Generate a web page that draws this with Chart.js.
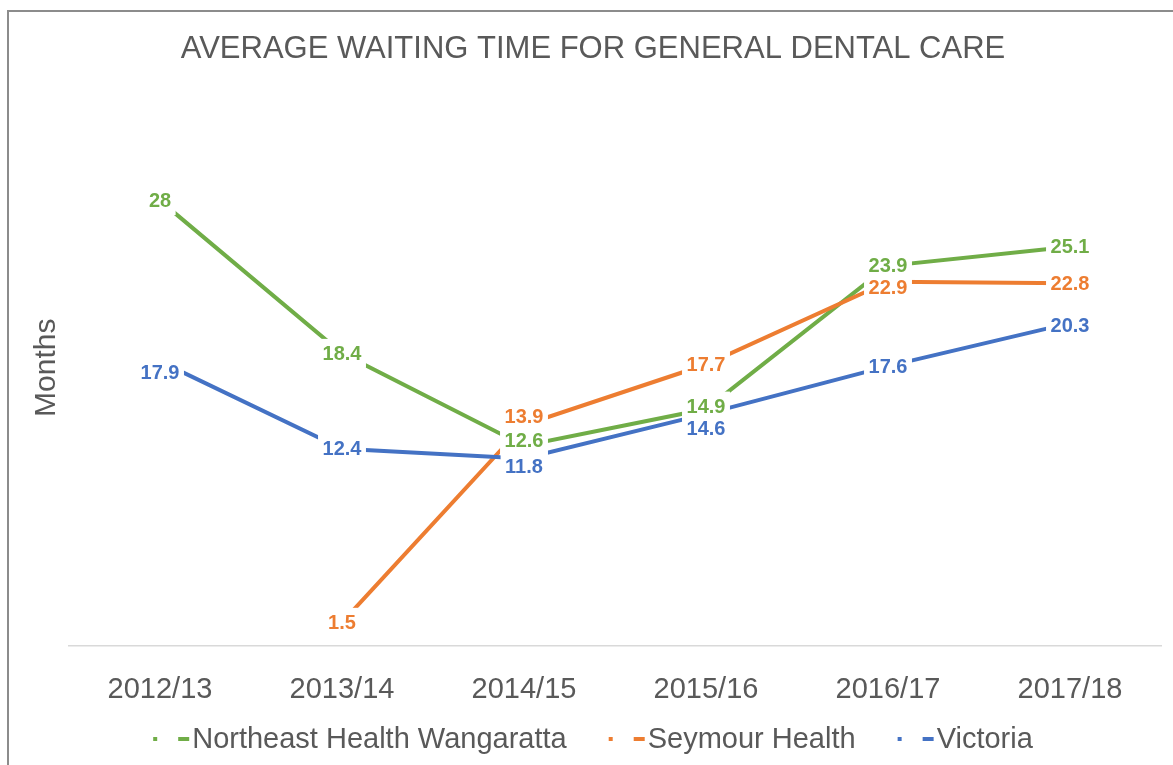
<!DOCTYPE html>
<html>
<head>
<meta charset="utf-8">
<title>Average waiting time for general dental care</title>
<script src="https://cdn.jsdelivr.net/npm/chart.js@4.4.1/dist/chart.umd.min.js"></script>
<style>
    html, body { margin: 0; padding: 0; background: #fff; overflow: hidden; }
    #wrap { position: relative; width: 1173px; height: 765px; }
</style>
</head>
<body>
<div id="wrap"><canvas id="dentalChart"></canvas></div>
<script>
// Chart data
const categories = ['2012/13', '2013/14', '2014/15', '2015/16', '2016/17', '2017/18'];
const northeastWangaratta = [28, 18.4, 12.6, 14.9, 23.9, 25.1];
const seymourHealth = [null, 1.5, 13.9, 17.7, 22.9, 22.8];
const victoria = [17.9, 12.4, 11.8, 14.6, 17.6, 20.3];

const seriesNames = ['Northeast Health Wangaratta', 'Seymour Health', 'Victoria'];
const seriesColors = ['#70AD47', '#ED7D31', '#4472C4'];

const FONT = "'Liberation Sans', Arial, sans-serif";
const TEXT_GREY = '#595959';

// small vertical nudges (px) so stacked labels don't collide, like the original
const labelNudge = [
    [0, 0, -5, -3, 0, 0],
    [0, 0, -9, 0, 6, 0],
    [11, 0, 8, 15, 0, 2]
];

// Grey frame around the chart area
const framePlugin = {
    id: 'frame',
    beforeDraw(chart) {
        const ctx = chart.ctx;
        ctx.save();
        ctx.strokeStyle = '#8c8c8c';
        ctx.lineWidth = 2;
        ctx.strokeRect(8, 11, chart.width + 50, chart.height + 50);
        ctx.restore();
    }
};

// Data labels with white boxes that cut the lines (Excel style)
const valueLabelPlugin = {
    id: 'valueLabels',
    afterDatasetsDraw(chart) {
        const ctx = chart.ctx;
        const size = 20;
        const items = [];
        ctx.save();
        ctx.font = `bold ${size}px ${FONT}`;
        chart.data.datasets.forEach((ds, i) => {
            const meta = chart.getDatasetMeta(i);
            ds.data.forEach((v, j) => {
                if (v === null || v === undefined) return;
                const pt = meta.data[j];
                const text = String(v);
                const w = ctx.measureText(text).width;
                items.push({ x: pt.x, y: pt.y + labelNudge[i][j], text, w, color: ds.borderColor });
            });
        });
        // boxes first, then all the text on top
        ctx.fillStyle = '#fff';
        items.forEach(it => {
            const bw = it.w + 9;
            const bh = size * 1.2 + 5;
            ctx.fillRect(it.x - bw / 2, it.y - bh / 2, bw, bh);
        });
        ctx.textAlign = 'center';
        ctx.textBaseline = 'middle';
        items.forEach(it => {
            ctx.fillStyle = it.color;
            ctx.fillText(it.text, it.x, it.y + 1);
        });
        ctx.restore();
    }
};

// Legend along the bottom: a dot and a short dash in the series colour, then the name
const legendPlugin = {
    id: 'bottomLegend',
    afterDraw(chart) {
        const ctx = chart.ctx;
        const baseline = 748;
        const markerW = 36;
        const textGap = 3;
        const itemGap = 42;
        ctx.save();
        ctx.font = `29px ${FONT}`;
        const widths = seriesNames.map(n => markerW + textGap + ctx.measureText(n).width);
        const total = widths.reduce((a, b) => a + b, 0) + itemGap * (widths.length - 1);
        let x = 593 - total / 2;
        const cy = 739;
        seriesNames.forEach((name, i) => {
            ctx.fillStyle = seriesColors[i];
            ctx.fillRect(x, cy - 2, 4, 4);
            ctx.fillRect(x + 25, cy - 2, 11, 4);
            ctx.fillStyle = TEXT_GREY;
            ctx.textAlign = 'left';
            ctx.textBaseline = 'alphabetic';
            ctx.fillText(name, x + markerW + textGap, baseline);
            x += widths[i] + itemGap;
        });
        ctx.restore();
    }
};

const ctx = document.getElementById('dentalChart').getContext('2d');
new Chart(ctx, {
    type: 'line',
    data: {
        labels: categories,
        datasets: [
            {
                label: seriesNames[0],
                data: northeastWangaratta,
                borderColor: seriesColors[0],
                borderWidth: 4,
                pointRadius: 0,
                order: 3
            },
            {
                label: seriesNames[1],
                data: seymourHealth,
                borderColor: seriesColors[1],
                borderWidth: 4,
                pointRadius: 0,
                order: 2
            },
            {
                label: seriesNames[2],
                data: victoria,
                borderColor: seriesColors[2],
                borderWidth: 4,
                pointRadius: 0,
                order: 1
            }
        ]
    },
    options: {
        responsive: true,
        maintainAspectRatio: false,
        animation: false,
        devicePixelRatio: 1,
        layout: {
            padding: { left: 25, right: 12, top: 10, bottom: 32 }
        },
        scales: {
            x: {
                offset: true,
                grid: { display: false, drawTicks: false },
                border: { display: true, color: '#d9d9d9', width: 1.5 },
                ticks: {
                    color: TEXT_GREY,
                    padding: 26,
                    font: { family: FONT, size: 29 }
                }
            },
            y: {
                min: 0,
                max: 35,
                grid: { display: false, drawTicks: false },
                border: { display: false },
                ticks: { display: false },
                title: {
                    display: true,
                    text: 'Months',
                    color: TEXT_GREY,
                    padding: 4,
                    font: { family: FONT, size: 30 }
                }
            }
        },
        plugins: {
            legend: { display: false },
            tooltip: { enabled: false },
            title: {
                display: true,
                text: 'AVERAGE WAITING TIME FOR GENERAL DENTAL CARE',
                color: TEXT_GREY,
                padding: { top: 21, bottom: 21 },
                font: { family: FONT, size: 31, weight: 'normal' }
            }
        }
    },
    plugins: [framePlugin, valueLabelPlugin, legendPlugin]
});
</script>
</body>
</html>
